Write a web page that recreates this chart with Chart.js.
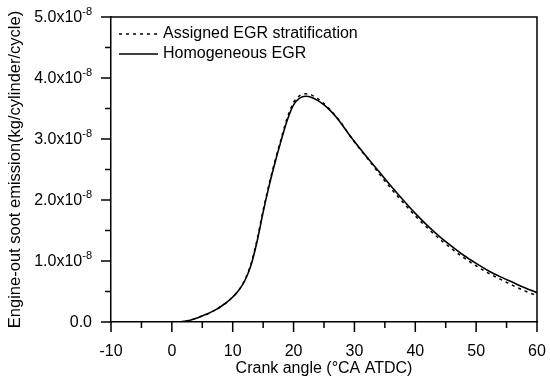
<!DOCTYPE html>
<html>
<head>
<meta charset="utf-8">
<script src="https://cdn.jsdelivr.net/npm/chart.js@4.4.1/dist/chart.umd.min.js"></script>
<style>
  html, body { margin: 0; padding: 0; background: #fff; }
  canvas { display: block; }
</style>
</head>
<body>
<canvas id="soot" width="550" height="383"></canvas>
<script>
// crank angle, °CA ATDC
const angles = [0, 1, 2, 3, 4, 5, 6, 7, 8, 9, 10, 11, 12, 13, 14, 15, 16, 17, 18, 19, 20,
  21, 22, 23, 24, 25, 26, 27, 28, 29, 30, 32, 34, 36, 38, 40, 42, 44, 46, 48, 50, 52, 54, 56, 58, 60];

// soot, in units of 1e-8 kg/cylinder/cycle
const stratified = [0, 0, 0.01, 0.03, 0.06, 0.10, 0.14, 0.19, 0.25, 0.32, 0.41, 0.52, 0.69, 0.95, 1.35, 1.83,
  2.27, 2.66, 3.02, 3.36, 3.60, 3.71, 3.74, 3.72, 3.66, 3.58, 3.48, 3.37, 3.24, 3.09, 2.95,
  2.70, 2.44, 2.19, 1.96, 1.74, 1.54, 1.36, 1.20, 1.05, 0.92, 0.80, 0.70, 0.60, 0.51, 0.43];
const homogeneous = [0, 0, 0.01, 0.03, 0.06, 0.10, 0.14, 0.19, 0.25, 0.32, 0.41, 0.52, 0.68, 0.93, 1.32, 1.80,
  2.24, 2.63, 2.99, 3.32, 3.56, 3.67, 3.70, 3.68, 3.63, 3.56, 3.47, 3.36, 3.23, 3.09, 2.96,
  2.71, 2.47, 2.23, 2.00, 1.78, 1.58, 1.40, 1.24, 1.09, 0.96, 0.84, 0.74, 0.65, 0.56, 0.48];

const yTickLabels = ['0.0', '1.0', '2.0', '3.0', '4.0', '5.0'];
const yExponent = '-8';
const seriesNames = ['Assigned EGR stratification', 'Homogeneous EGR'];

const FONT = 'Liberation Sans, Arial, sans-serif';

const frameAndTicks = {
  id: 'frameAndTicks',
  afterDraw(chart) {
    const { ctx, chartArea: a, scales: { x, y } } = chart;
    ctx.save();
    ctx.strokeStyle = '#000';
    ctx.lineWidth = 1.5;
    // top + right frame
    ctx.beginPath();
    ctx.moveTo(a.left, a.top);
    ctx.lineTo(a.right, a.top);
    ctx.lineTo(a.right, a.bottom);
    ctx.stroke();
    // outward ticks
    ctx.beginPath();
    x.ticks.forEach(t => {
      const px = x.getPixelForValue(t.value);
      const len = t.value % 10 === 0 ? 10 : 6;
      ctx.moveTo(px, a.bottom);
      ctx.lineTo(px, a.bottom + len);
    });
    y.ticks.forEach(t => {
      const py = y.getPixelForValue(t.value);
      const len = Number.isInteger(t.value) ? 10 : 6;
      ctx.moveTo(a.left, py);
      ctx.lineTo(a.left - len, py);
    });
    ctx.stroke();

    // y tick labels with superscript exponent
    ctx.fillStyle = '#000';
    ctx.textBaseline = 'middle';
    yTickLabels.forEach((lab, i) => {
      const py = y.getPixelForValue(i) + 1;
      const right = a.left - 19;
      if (i === 0) {
        ctx.font = '16px ' + FONT;
        ctx.textAlign = 'right';
        ctx.fillText(lab, right, py);
        return;
      }
      ctx.font = '11px ' + FONT;
      const expW = ctx.measureText(yExponent).width;
      ctx.textAlign = 'right';
      ctx.fillText(yExponent, right, py - 6);
      ctx.font = '16px ' + FONT;
      ctx.fillText(lab + 'x10', right - expW, py);
    });

    // legend inside plot area
    ctx.font = '16px ' + FONT;
    ctx.textAlign = 'left';
    const rows = [{ dash: [3, 4], y: 34 }, { dash: [], y: 54 }];
    rows.forEach((r, i) => {
      ctx.beginPath();
      ctx.setLineDash(r.dash);
      ctx.lineWidth = 1.5;
      ctx.moveTo(119, r.y);
      ctx.lineTo(158, r.y);
      ctx.stroke();
      ctx.setLineDash([]);
      ctx.fillText(seriesNames[i], 163, r.y);
    });
    ctx.restore();
  }
};

new Chart(document.getElementById('soot'), {
  type: 'line',
  data: {
    datasets: [
      {
        label: seriesNames[0],
        data: angles.map((a, i) => ({ x: a, y: stratified[i] })),
        borderColor: '#000',
        borderWidth: 1.5,
        borderDash: [3, 4],
        pointRadius: 0,
        cubicInterpolationMode: 'monotone',
        fill: false,
      },
      {
        label: seriesNames[1],
        data: angles.map((a, i) => ({ x: a, y: homogeneous[i] })),
        borderColor: '#000',
        borderWidth: 1.6,
        pointRadius: 0,
        cubicInterpolationMode: 'monotone',
        fill: false,
      },
    ],
  },
  options: {
    responsive: false,
    animation: false,
    devicePixelRatio: 1,
    layout: { padding: { left: 0, right: 13, top: 17, bottom: 0 } },
    plugins: { legend: { display: false }, tooltip: { enabled: false } },
    scales: {
      x: {
        type: 'linear',
        min: -10,
        max: 60,
        afterFit: s => { s.height = 61; },
        ticks: {
          stepSize: 5,
          autoSkip: false,
          maxRotation: 0,
          padding: 3,
          color: '#000',
          font: { size: 16, family: FONT },
          callback: v => (v % 10 === 0 ? String(v) : ''),
        },
        grid: { drawOnChartArea: false, tickLength: 17, color: 'rgba(0,0,0,0)' },
        border: { color: '#000', width: 1.5 },
        title: {
          display: true,
          text: 'Crank angle (°CA ATDC)',
          color: '#000',
          font: { size: 16, family: FONT },
          padding: { top: 0, bottom: 5 },
        },
      },
      y: {
        type: 'linear',
        min: 0,
        max: 5,
        afterFit: s => { s.width = 111; },
        ticks: { stepSize: 0.5, display: false },
        grid: { drawOnChartArea: false, tickLength: 10, color: 'rgba(0,0,0,0)' },
        border: { color: '#000', width: 1.5 },
        title: {
          display: true,
          text: 'Engine-out soot emission(kg/cylinder/cycle)',
          color: '#000',
          font: { size: 16.5, family: FONT },
          padding: { top: 6, bottom: 0 },
        },
      },
    },
  },
  plugins: [frameAndTicks],
});
</script>
</body>
</html>
